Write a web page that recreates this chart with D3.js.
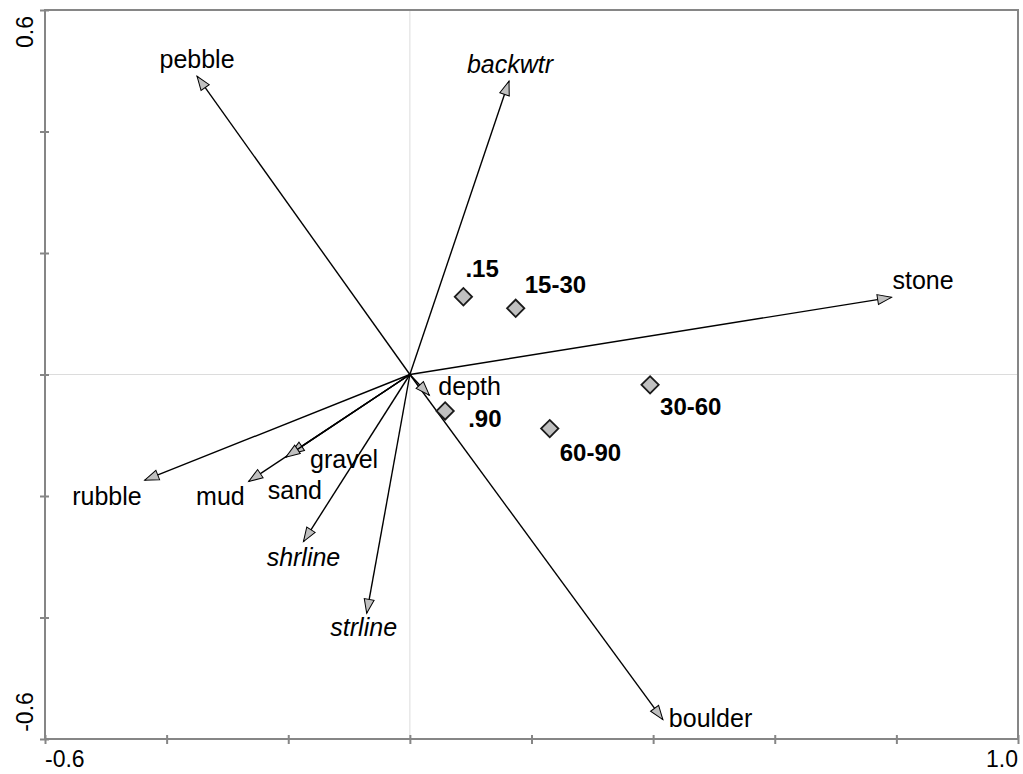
<!DOCTYPE html>
<html>
<head>
<meta charset="utf-8">
<script src="https://cdn.jsdelivr.net/npm/d3@7"></script>
<style>
  body { margin: 0; background: #fff; }
  text { font-family: Arial, "Liberation Sans", sans-serif; fill: #000; }
  .var-label { font-size: 25px; }
  .site-label { font-size: 24px; font-weight: bold; }
  .end-label { font-size: 23px; }
</style>
</head>
<body>
<div id="wrapper"></div>
<script>
// environmental variables (biplot arrows)
const varNames = ["pebble", "backwtr", "stone", "boulder", "depth", "rubble", "mud", "gravel", "sand", "shrline", "strline"]
const varX = [-0.350, 0.163, 0.792, 0.416, 0.032, -0.436, -0.265, -0.197, -0.204, -0.175, -0.071]
const varY = [0.491, 0.483, 0.127, -0.568, -0.034, -0.174, -0.176, -0.131, -0.136, -0.275, -0.393]
const italicVars = ["backwtr", "shrline", "strline"]

// sample classes (diamonds)
const siteNames = [".15", "15-30", "30-60", ".90", "60-90"]
const siteX = [0.088, 0.174, 0.395, 0.058, 0.230]
const siteY = [0.128, 0.109, -0.017, -0.060, -0.089]

// axes
const xTicks = [-0.6, -0.4, -0.2, 0, 0.2, 0.4, 0.6, 0.8, 1.0]
const yTicks = [-0.6, -0.4, -0.2, 0, 0.2, 0.4, 0.6]
const xTickLabels = ["-0.6", "1.0"]
const yTickLabels = ["0.6", "-0.6"]

function drawBiplot() {

    // 1. dimensions
    let dimensions = {
        width: 1023,
        height: 774,
        margin: { top: 10, right: 5, bottom: 35, left: 45 },
    }
    dimensions.boundedWidth = dimensions.width - dimensions.margin.left - dimensions.margin.right
    dimensions.boundedHeight = dimensions.height - dimensions.margin.top - dimensions.margin.bottom

    // 2. canvas
    const wrapper = d3.select("#wrapper")
        .append("svg")
        .attr("width", dimensions.width)
        .attr("height", dimensions.height)

    const defs = wrapper.append("defs")
    defs.append("marker")
        .attr("id", "head")
        .attr("markerUnits", "userSpaceOnUse")
        .attr("viewBox", "-1 -7 17 14")
        .attr("refX", 14)
        .attr("refY", 0)
        .attr("markerWidth", 17)
        .attr("markerHeight", 14)
        .attr("orient", "auto")
        .append("path")
        .attr("d", "M0,-5L14,0L0,5Z")
        .attr("fill", "#c0c0c0")
        .attr("stroke", "#000")
        .attr("stroke-width", 1)

    const bounds = wrapper.append("g")
        .attr("transform", `translate(${dimensions.margin.left}, ${dimensions.margin.top})`)

    // 3. scales
    const xScale = d3.scaleLinear()
        .domain([-0.6, 1.0])
        .range([0, dimensions.boundedWidth])

    const yScale = d3.scaleLinear()
        .domain([-0.6, 0.6])
        .range([dimensions.boundedHeight, 0])

    // zero lines
    bounds.append("line")
        .attr("x1", xScale(0)).attr("x2", xScale(0))
        .attr("y1", 0).attr("y2", dimensions.boundedHeight)
        .attr("stroke", "#dcdcdc").attr("stroke-width", 1)
    bounds.append("line")
        .attr("x1", 0).attr("x2", dimensions.boundedWidth)
        .attr("y1", yScale(0)).attr("y2", yScale(0))
        .attr("stroke", "#dcdcdc").attr("stroke-width", 1)

    // 4. arrows
    const vars = varNames.map((name, i) => ({ name, x: varX[i], y: varY[i] }))

    bounds.selectAll(".arrow")
        .data(vars)
        .enter().append("line")
        .attr("class", "arrow")
        .attr("x1", xScale(0))
        .attr("y1", yScale(0))
        .attr("x2", d => xScale(d.x))
        .attr("y2", d => yScale(d.y))
        .attr("stroke", "#000")
        .attr("stroke-width", 1.4)
        .attr("marker-end", "url(#head)")

    // label placement: [anchor, dx, dy] relative to arrow tip
    const varLabelPos = {
        pebble: ["middle", 0, -8],
        backwtr: ["middle", 1, -8],
        stone: ["start", 1, -8],
        boulder: ["start", 6, 7],
        depth: ["start", 9, 0],
        rubble: ["end", -3, 25],
        mud: ["end", -4, 24],
        gravel: ["start", 20, 14],
        sand: ["start", -18, 42],
        shrline: ["middle", 0, 24],
        strline: ["middle", -3, 23],
    }

    bounds.selectAll(".var-label")
        .data(vars)
        .enter().append("text")
        .attr("class", "var-label")
        .attr("x", d => xScale(d.x) + varLabelPos[d.name][1])
        .attr("y", d => yScale(d.y) + varLabelPos[d.name][2])
        .attr("text-anchor", d => varLabelPos[d.name][0])
        .style("font-style", d => italicVars.includes(d.name) ? "italic" : "normal")
        .text(d => d.name)

    // 5. sites
    const sites = siteNames.map((name, i) => ({ name, x: siteX[i], y: siteY[i] }))
    const diamond = d3.symbol(d3.symbolSquare, 150)

    bounds.selectAll(".site")
        .data(sites)
        .enter().append("path")
        .attr("class", "site")
        .attr("d", diamond)
        .attr("transform", d => `translate(${xScale(d.x)}, ${yScale(d.y)}) rotate(45)`)
        .attr("fill", "#c0c0c0")
        .attr("stroke", "#1a1a1a")
        .attr("stroke-width", 1.8)

    const siteLabelPos = {
        ".15": [2, -20],
        "15-30": [9, -15],
        "30-60": [10, 30],
        ".90": [23, 16],
        "60-90": [10, 32],
    }

    bounds.selectAll(".site-label")
        .data(sites)
        .enter().append("text")
        .attr("class", "site-label")
        .attr("x", d => xScale(d.x) + siteLabelPos[d.name][0])
        .attr("y", d => yScale(d.y) + siteLabelPos[d.name][1])
        .text(d => d.name)

    // 6. peripherals
    bounds.append("rect")
        .attr("width", dimensions.boundedWidth)
        .attr("height", dimensions.boundedHeight)
        .attr("fill", "none")
        .attr("stroke", "#868686")
        .attr("stroke-width", 2)

    const xAxis = bounds.append("g")
        .attr("transform", `translate(0, ${dimensions.boundedHeight})`)
        .call(d3.axisBottom(xScale).tickValues(xTicks).tickFormat(""))
    xAxis.select(".domain").remove()
    xAxis.selectAll(".tick line")
        .attr("y1", -4).attr("y2", 5)
        .attr("stroke", "#868686").attr("stroke-width", 2)

    const yAxis = bounds.append("g")
        .call(d3.axisLeft(yScale).tickValues(yTicks).tickFormat(""))
    yAxis.select(".domain").remove()
    yAxis.selectAll(".tick line")
        .attr("x1", -5).attr("x2", 4)
        .attr("stroke", "#868686").attr("stroke-width", 2)

    // end labels only
    bounds.selectAll(".x-end")
        .data(xTickLabels)
        .enter().append("text")
        .attr("class", "end-label")
        .attr("x", d => xScale(+d))
        .attr("y", dimensions.boundedHeight + 28)
        .attr("text-anchor", (d, i) => i === 0 ? "start" : "end")
        .text(d => d)

    bounds.selectAll(".y-end")
        .data(yTickLabels)
        .enter().append("text")
        .attr("class", "end-label")
        .attr("text-anchor", "middle")
        .attr("transform", (d, i) => `translate(-12, ${yScale(+d) + (i === 0 ? 22 : -27)}) rotate(-90)`)
        .text(d => d)
}

drawBiplot()
</script>
</body>
</html>
